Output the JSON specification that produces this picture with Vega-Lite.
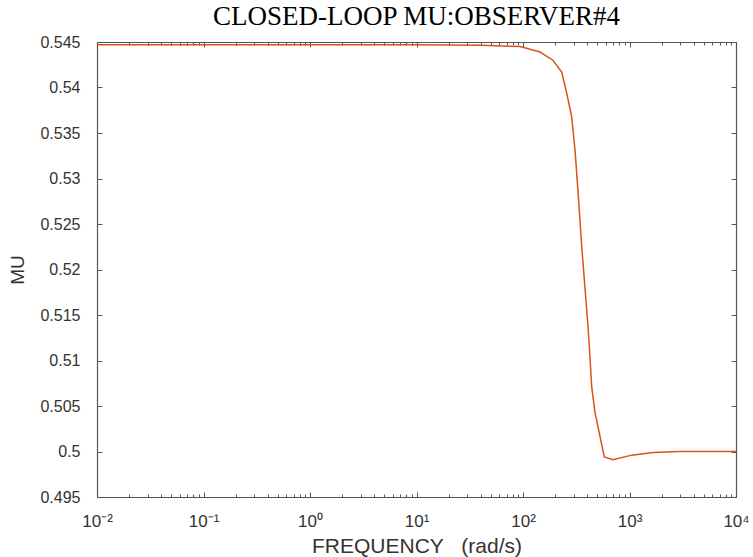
{
  "$schema": "https://vega.github.io/schema/vega-lite/v6.json",
  "width": 639,
  "height": 455,
  "autosize": {"type": "none"},
  "padding": {"left": 97, "top": 42, "right": 17, "bottom": 60},
  "background": "white",
  "config": {"view": {"stroke": null}, "axis": {"grid": false, "domainColor": "#555555", "tickColor": "#555555", "labelColor": "#333333", "titleColor": "#333333", "labelFont": "Liberation Sans", "titleFont": "Liberation Sans", "titleFontWeight": "normal", "domainWidth": 1.2, "tickWidth": 1}},
  "title": {"text": "CLOSED-LOOP MU:OBSERVER#4", "font": "Liberation Serif", "fontSize": 27, "fontWeight": "normal", "color": "#000000", "anchor": "middle", "frame": "group", "baseline": "bottom", "offset": -24},
  "data": {"values": [
    {"freq": 0.01, "mu": 0.5447},
    {"freq": 0.1, "mu": 0.5447},
    {"freq": 1, "mu": 0.5447},
    {"freq": 10, "mu": 0.5447},
    {"freq": 40, "mu": 0.54465},
    {"freq": 93.7, "mu": 0.5445},
    {"freq": 144.5, "mu": 0.5439},
    {"freq": 191, "mu": 0.543},
    {"freq": 231, "mu": 0.5417},
    {"freq": 257, "mu": 0.5394},
    {"freq": 286, "mu": 0.5368},
    {"freq": 308, "mu": 0.5331},
    {"freq": 328, "mu": 0.5287},
    {"freq": 356, "mu": 0.5225},
    {"freq": 410, "mu": 0.5134},
    {"freq": 442, "mu": 0.5071},
    {"freq": 474, "mu": 0.5043},
    {"freq": 580, "mu": 0.4994},
    {"freq": 700, "mu": 0.4991},
    {"freq": 1050, "mu": 0.4996},
    {"freq": 1663, "mu": 0.4999},
    {"freq": 2979, "mu": 0.5},
    {"freq": 10000, "mu": 0.5}
  ]},
  "resolve": {"axis": {"x": "independent", "y": "independent"}},
  "layer": [
    {
      "mark": {"type": "line", "color": "#D95319", "strokeWidth": 1.5, "clip": true},
      "encoding": {
        "x": {"field": "freq", "type": "quantitative",
          "scale": {"type": "log", "domain": [0.01, 10000], "nice": false},
          "axis": {"orient": "bottom", "values": [0.01, 0.1, 1, 10, 100, 1000, 10000], "tickSize": -5, "labelPadding": 21, "labelFontSize": 17, "labelFlush": false, "labelOverlap": false,
            "labelExpr": "datum.value < 0.05 ? '10⁻²' : datum.value < 0.5 ? '10⁻¹' : datum.value < 5 ? '10⁰' : datum.value < 50 ? '10¹' : datum.value < 500 ? '10²' : datum.value < 5000 ? '10³' : '10⁴'",
            "title": "FREQUENCY\u00a0\u00a0 (rad/s)", "titleFontSize": 21, "titlePadding": 6}},
        "y": {"field": "mu", "type": "quantitative",
          "scale": {"domain": [0.495, 0.545], "nice": false, "zero": false},
          "axis": {"orient": "left", "values": [0.495, 0.5, 0.505, 0.51, 0.515, 0.52, 0.525, 0.53, 0.535, 0.54, 0.545], "format": "~g", "tickSize": -5, "labelPadding": 22, "labelFontSize": 16, "labelFlush": false, "labelOverlap": false,
            "title": "MU", "titleFontSize": 19, "titlePadding": 12}}
      }
    },
    {
      "mark": {"type": "point", "opacity": 0},
      "encoding": {
        "x": {"field": "freq", "type": "quantitative",
          "axis": {"orient": "top", "values": [0.01, 0.1, 1, 10, 100, 1000, 10000], "tickSize": -5, "labels": false, "title": null}},
        "y": {"field": "mu", "type": "quantitative",
          "axis": {"orient": "right", "values": [0.495, 0.5, 0.505, 0.51, 0.515, 0.52, 0.525, 0.53, 0.535, 0.54, 0.545], "tickSize": -5, "labels": false, "title": null}}
      }
    },
    {
      "mark": {"type": "point", "opacity": 0},
      "encoding": {
        "x": {"field": "freq", "type": "quantitative",
          "axis": {"orient": "bottom", "values": [0.02,0.03,0.04,0.05,0.06,0.07,0.08,0.09,0.2,0.3,0.4,0.5,0.6,0.7,0.8,0.9,2,3,4,5,6,7,8,9,20,30,40,50,60,70,80,90,200,300,400,500,600,700,800,900,2000,3000,4000,5000,6000,7000,8000,9000], "tickSize": -3, "labels": false, "domain": false, "title": null}}
      }
    },
    {
      "mark": {"type": "point", "opacity": 0},
      "encoding": {
        "x": {"field": "freq", "type": "quantitative",
          "axis": {"orient": "top", "values": [0.02,0.03,0.04,0.05,0.06,0.07,0.08,0.09,0.2,0.3,0.4,0.5,0.6,0.7,0.8,0.9,2,3,4,5,6,7,8,9,20,30,40,50,60,70,80,90,200,300,400,500,600,700,800,900,2000,3000,4000,5000,6000,7000,8000,9000], "tickSize": -3, "labels": false, "domain": false, "title": null}}
      }
    }
  ]
}
